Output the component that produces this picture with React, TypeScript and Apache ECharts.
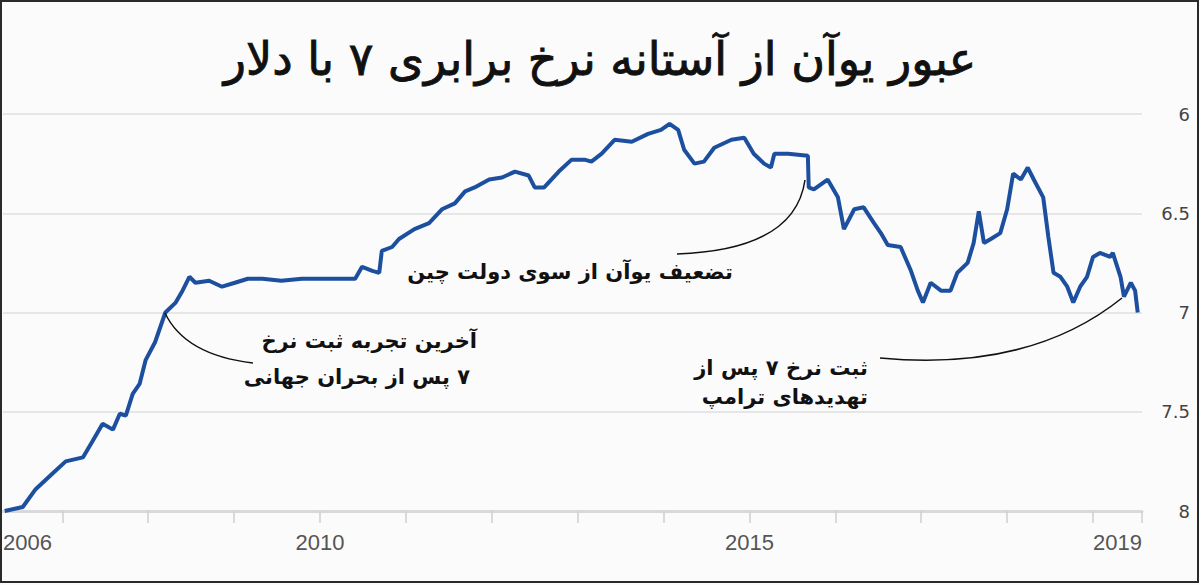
import React, { useEffect, useRef } from "react";
import * as echarts from "echarts";

// ---- data (decimal year, CNY per USD) ----
const years = [
  2006.33, 2006.54, 2006.69, 2006.89, 2007.04, 2007.24, 2007.35, 2007.47, 2007.59, 2007.67,
  2007.74, 2007.82, 2007.9, 2007.97, 2008.08, 2008.2, 2008.32, 2008.4, 2008.48, 2008.55,
  2008.71, 2008.86, 2009.01, 2009.16, 2009.33, 2009.55, 2009.79, 2010.1, 2010.41, 2010.49,
  2010.61, 2010.69, 2010.72, 2010.84, 2010.92, 2011.1, 2011.27, 2011.42, 2011.57, 2011.69,
  2011.8, 2011.97, 2012.12, 2012.27, 2012.43, 2012.5, 2012.61, 2012.78, 2012.93, 2013.08,
  2013.16, 2013.28, 2013.43, 2013.63, 2013.82, 2013.97, 2014.07, 2014.17, 2014.24, 2014.36,
  2014.47, 2014.59, 2014.79, 2014.94, 2015.05, 2015.17, 2015.25, 2015.29, 2015.45, 2015.68,
  2015.69, 2015.75, 2015.91, 2016.03, 2016.1, 2016.22, 2016.33, 2016.45, 2016.53, 2016.61,
  2016.76, 2016.88, 2016.96, 2017.02, 2017.11, 2017.23, 2017.34, 2017.42, 2017.54, 2017.61,
  2017.67, 2017.73, 2017.81, 2017.92, 2018.0, 2018.07, 2018.16, 2018.24, 2018.31, 2018.42,
  2018.48, 2018.54, 2018.62, 2018.7, 2018.77, 2018.85, 2018.93, 2019.0, 2019.08, 2019.2,
  2019.23, 2019.32, 2019.36, 2019.44, 2019.49, 2019.52,
];
const rates = [
  8.0, 7.98, 7.89, 7.81, 7.75, 7.73, 7.65, 7.56, 7.59, 7.51,
  7.52, 7.41, 7.36, 7.24, 7.15, 7.0, 6.95, 6.89, 6.82, 6.85,
  6.84, 6.87, 6.85, 6.83, 6.83, 6.84, 6.83, 6.83, 6.83, 6.77,
  6.79, 6.8, 6.69, 6.67, 6.63, 6.58, 6.55, 6.48, 6.45, 6.39,
  6.37, 6.33, 6.32, 6.29, 6.31, 6.37, 6.37, 6.29, 6.23, 6.23,
  6.24, 6.2, 6.13, 6.14, 6.1, 6.08, 6.05, 6.08, 6.18, 6.25,
  6.24, 6.17, 6.13, 6.12, 6.2, 6.25, 6.27, 6.2, 6.2, 6.21,
  6.37, 6.38, 6.33, 6.42, 6.58, 6.48, 6.47, 6.55, 6.6, 6.66,
  6.67, 6.79, 6.89, 6.95, 6.85, 6.89, 6.89, 6.8, 6.75, 6.65,
  6.49, 6.65, 6.63, 6.6, 6.48, 6.3, 6.33, 6.27, 6.33, 6.42,
  6.62, 6.8, 6.82, 6.87, 6.95, 6.87, 6.82, 6.72, 6.7, 6.72,
  6.7, 6.82, 6.92, 6.85, 6.89, 7.0,
];

const X_MIN = 2006.31;
const X_MAX = 2019.57;
const xTickYears = [2007, 2008, 2009, 2010, 2011, 2012, 2013, 2014, 2015, 2016, 2017, 2018, 2019, X_MAX];
const xLabelValues = [X_MIN, 2010, 2015, X_MAX];
const xLabelTexts = ["2006", "2010", "2015", "2019"];
const yTicks = [6, 6.5, 7, 7.5, 8];

const RLM = "\u200F";
const titleText = "عبور یوآن از آستانه نرخ برابری ۷ با دلار";
const note2015 = "تضعیف یوآن از سوی دولت چین";
const note2008 = ["آخرین تجربه ثبت نرخ", "۷ پس از بحران جهانی"];
const note2019 = ["ثبت نرخ ۷ پس از", "تهدیدهای ترامپ"];

const FA = "'DejaVu Sans', 'Noto Sans', sans-serif";

export default function App() {
  const ref = useRef<HTMLDivElement>(null);
  useEffect(() => {
    if (!ref.current) return;
    const chart = echarts.init(ref.current, undefined, { renderer: "svg" });
    const data = years.map((y, i) => [y, rates[i]]);
    const noteFont = `bold 21px ${FA}`;
    chart.setOption({
      animation: false,
      backgroundColor: "#fbfbfb",
      grid: { left: 0, right: 58, top: 114, bottom: 74, containLabel: false },
      xAxis: {
        type: "value",
        min: X_MIN,
        max: X_MAX,
        axisLine: { show: true, lineStyle: { color: "#d9d9d9", width: 3 } },
        axisTick: {
          show: true,
          customValues: xTickYears,
          length: 12,
          lineStyle: { color: "#cfcfcf", width: 1.5 },
        },
        axisLabel: {
          customValues: xLabelValues,
          formatter: (v: number) => {
            let best = 0;
            xLabelValues.forEach((lv, i) => {
              if (Math.abs(lv - v) < Math.abs(xLabelValues[best] - v)) best = i;
            });
            return xLabelTexts[best];
          },
          color: "#555",
          fontSize: 22,
          fontFamily: "'Liberation Sans Narrow', 'Liberation Sans', sans-serif",
          margin: 20,
          alignMinLabel: "left",
          alignMaxLabel: "right",
        },
        splitLine: { show: false },
      },
      yAxis: {
        type: "value",
        position: "right",
        inverse: true,
        min: yTicks[0],
        max: yTicks[yTicks.length - 1],
        interval: 0.5,
        axisLine: { show: false },
        axisTick: { show: false },
        axisLabel: {
          color: "#444",
          fontSize: 18,
          fontFamily: "'DejaVu Sans', sans-serif",
          align: "right",
          margin: 48,
          formatter: (v: number) => String(v),
        },
        splitLine: { lineStyle: { color: "#e6e6e6", width: 2 } },
      },
      series: [
        {
          type: "line",
          data,
          showSymbol: false,
          lineStyle: { color: "#1d4f9f", width: 4 },
          z: 5,
        },
      ],
      graphic: [
        {
          type: "text",
          x: 600,
          y: 59,
          z: 10,
          style: {
            text: RLM + titleText,
            font: `46px ${FA}`,
            fill: "#111",
            stroke: "#111",
            lineWidth: 0.9,
            align: "center",
            verticalAlign: "middle",
          },
        },
        {
          type: "bezierCurve",
          z: 10,
          shape: { x1: 805, y1: 180, x2: 677, y2: 254, cpx1: 795, cpy1: 250 },
          style: { stroke: "#111", lineWidth: 1.5, fill: "none" },
        },
        {
          type: "text",
          x: 570,
          y: 272,
          z: 10,
          style: { text: RLM + note2015, font: noteFont, fill: "#111", align: "center", verticalAlign: "middle" },
        },
        {
          type: "bezierCurve",
          z: 10,
          shape: { x1: 165, y1: 313, x2: 253, y2: 363, cpx1: 185, cpy1: 355 },
          style: { stroke: "#111", lineWidth: 1.5, fill: "none" },
        },
        {
          type: "text",
          x: 477,
          y: 341,
          z: 10,
          style: { text: RLM + note2008[0], font: noteFont, fill: "#111", align: "right", verticalAlign: "middle" },
        },
        {
          type: "text",
          x: 470,
          y: 377,
          z: 10,
          style: { text: RLM + note2008[1], font: noteFont, fill: "#111", align: "right", verticalAlign: "middle" },
        },
        {
          type: "bezierCurve",
          z: 10,
          shape: { x1: 880, y1: 358, x2: 1122, y2: 298, cpx1: 1030, cpy1: 372 },
          style: { stroke: "#111", lineWidth: 1.5, fill: "none" },
        },
        {
          type: "text",
          x: 868,
          y: 368,
          z: 10,
          style: { text: RLM + note2019[0], font: noteFont, fill: "#111", align: "right", verticalAlign: "middle" },
        },
        {
          type: "text",
          x: 868,
          y: 397,
          z: 10,
          style: { text: RLM + note2019[1], font: noteFont, fill: "#111", align: "right", verticalAlign: "middle" },
        },
        {
          type: "rect",
          z: 20,
          silent: true,
          shape: { x: 1, y: 1, width: 1197, height: 581 },
          style: { fill: "none", stroke: "#2a2a2a", lineWidth: 2 },
        },
      ],
    });
    return () => chart.dispose();
  }, []);
  return (
    <div style={{ position: "fixed", left: 0, top: 0, width: 1200, height: 585 }}>
      <div ref={ref} style={{ width: 1200, height: 585 }} />
    </div>
  );
}
